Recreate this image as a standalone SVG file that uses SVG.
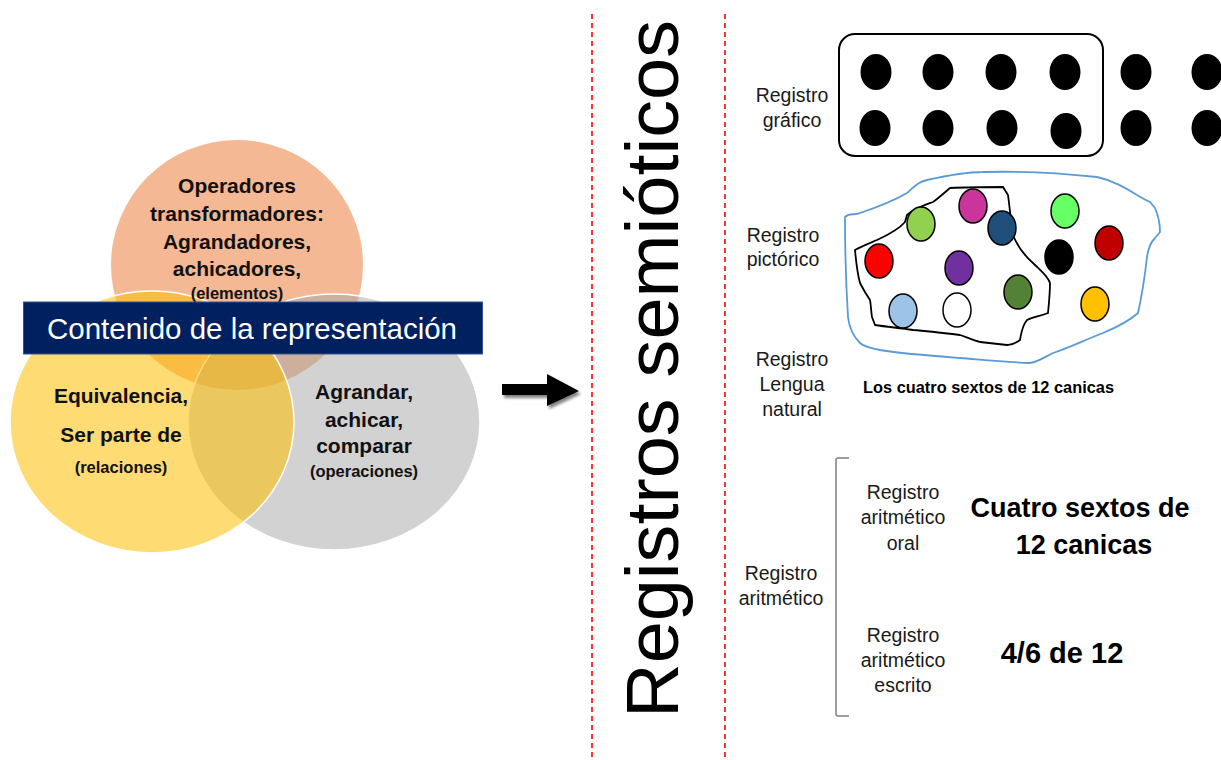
<svg xmlns="http://www.w3.org/2000/svg" width="1221" height="760" viewBox="0 0 1221 760">
<defs>
<style>
text{font-family:"Liberation Sans",Arial,sans-serif;fill:#000}
.b{font-weight:bold}
.lbl{font-size:19.5px;text-anchor:middle;fill:#1a1a1a}
.ct{font-size:21px;font-weight:bold;text-anchor:middle;fill:#111}
.cs{font-size:16.5px;font-weight:bold;text-anchor:middle;fill:#111}
.dot{fill:#000}
.m{stroke:#000;stroke-width:1.5}
.sep{stroke:#FF0000;stroke-width:1.6;stroke-dasharray:5 4;fill:none}
</style>
<filter id="sh" x="-20%" y="-30%" width="160%" height="180%">
<feGaussianBlur in="SourceAlpha" stdDeviation="1.8"/>
<feOffset dx="2" dy="3" result="o"/>
<feComponentTransfer><feFuncA type="linear" slope="0.5"/></feComponentTransfer>
<feMerge><feMergeNode/><feMergeNode in="SourceGraphic"/></feMerge>
</filter>
</defs>
<rect width="1221" height="760" fill="#fff"/>

<g id="venn">
<g id="circle-top">
<ellipse cx="237" cy="265" rx="126" ry="125" fill="#F0A070" fill-opacity="0.75"/>
</g>
<g id="circle-right">
<ellipse cx="334" cy="422" rx="146" ry="128" fill="#A6A6A6" fill-opacity="0.5" stroke="#fff" stroke-width="1.5"/>
</g>
<g id="circle-left">
<ellipse cx="152" cy="422" rx="142" ry="131" fill="#FFC000" fill-opacity="0.55" stroke="#fff" stroke-width="1.5"/>
</g>
<g id="text-top">
<text class="ct" x="237" y="193">Operadores</text>
<text class="ct" x="237" y="221">transformadores:</text>
<text class="ct" x="237" y="249">Agrandadores,</text>
<text class="ct" x="237" y="276">achicadores,</text>
<text class="cs" x="237" y="299" font-weight="normal">(elementos)</text>
</g>
<g id="text-left">
<text class="ct" x="121" y="403">Equivalencia,</text>
<text class="ct" x="121" y="442">Ser parte de</text>
<text class="cs" x="121" y="473">(relaciones)</text>
</g>
<g id="text-right">
<text class="ct" x="364" y="399">Agrandar,</text>
<text class="ct" x="364" y="427">achicar,</text>
<text class="ct" x="364" y="453">comparar</text>
<text class="cs" x="364" y="477">(operaciones)</text>
</g>
<g id="banner">
<rect x="23.5" y="302" width="459" height="52" fill="#002060" stroke="#2F5597" stroke-width="1"/>
<text x="252" y="339" font-size="29" fill="#fff" style="fill:#fff" text-anchor="middle" textLength="410" lengthAdjust="spacingAndGlyphs">Contenido de la representación</text>
</g>
</g>

<g id="connectors">
<path d="M502,384 L547,384 L547,374 L579,391 L547,406 L547,395 L502,395 Z" fill="#000" filter="url(#sh)"/>
<line class="sep" x1="592" y1="14" x2="592" y2="760"/>
<line class="sep" x1="725" y1="14" x2="725" y2="760"/>
</g>

<g id="title">
<text transform="translate(678,369) rotate(-90)" x="0" y="0" font-size="75" text-anchor="middle" textLength="698" lengthAdjust="spacingAndGlyphs">Registros semióticos</text>
</g>

<g id="registro-grafico">
<text class="lbl" x="792" y="102">Registro</text>
<text class="lbl" x="792" y="127">gráfico</text>
<rect x="839" y="34" width="264" height="122" rx="16" fill="none" stroke="#000" stroke-width="2"/>
<ellipse class="dot" cx="876" cy="72" rx="15.5" ry="18"/>
<ellipse class="dot" cx="938" cy="72" rx="15.5" ry="18"/>
<ellipse class="dot" cx="1001" cy="72" rx="15.5" ry="18"/>
<ellipse class="dot" cx="1065" cy="72" rx="15.5" ry="18"/>
<ellipse class="dot" cx="1136" cy="72" rx="15.5" ry="18"/>
<ellipse class="dot" cx="1207" cy="72" rx="15.5" ry="18"/>
<ellipse class="dot" cx="875" cy="128" rx="15.5" ry="18"/>
<ellipse class="dot" cx="938" cy="128" rx="15.5" ry="18"/>
<ellipse class="dot" cx="1002" cy="128" rx="15.5" ry="18"/>
<ellipse class="dot" cx="1066" cy="131" rx="15.5" ry="18"/>
<ellipse class="dot" cx="1136" cy="128" rx="15.5" ry="18"/>
<ellipse class="dot" cx="1207" cy="128" rx="15.5" ry="18"/>
</g>

<g id="registro-pictorico">
<text class="lbl" x="783" y="242">Registro</text>
<text class="lbl" x="783" y="266">pictórico</text>
<path d="M845,217 C850,212 855,216 860,213 C875,208 895,200 907,193 C915,186 920,181 927,180 C945,176 965,172 983,172 C1020,171 1060,173 1097,177 C1120,182 1135,195 1150,202 L1155,208 C1158,215 1160,225 1160,232 L1155,238 C1150,243 1148,250 1147,257 C1145,275 1142,295 1138,313 C1128,322 1115,328 1103,333 C1085,340 1068,348 1053,353 C1045,357 1038,362 1030,363 C1005,362 985,360 960,358 C933,356 905,354 880,350 C870,348 863,346 860,343 C852,335 849,326 848,317 C846,285 845,250 845,217 Z" fill="none" stroke="#5B9BD5" stroke-width="1.8"/>
<path d="M855,250 C862,246 870,243 877,240 C890,234 900,228 905,222 L907,215 C915,208 925,205 933,202 C940,197 945,192 950,188 C968,187 985,187 1003,187 L1008,195 C1010,210 1011,222 1013,235 C1018,248 1025,256 1033,263 C1040,270 1048,276 1050,283 C1050,293 1049,303 1048,313 C1040,316 1033,317 1027,320 C1022,326 1021,334 1020,340 C1016,343 1012,345 1007,345 C998,344 989,343 980,342 C973,340 966,337 960,335 C944,333 928,331 913,330 C900,328 888,327 875,325 L872,317 C871,311 871,305 870,300 C866,294 863,289 860,283 C857,272 856,261 855,250 Z" fill="none" stroke="#000" stroke-width="1.8"/>
<ellipse class="m" cx="921" cy="224" rx="14" ry="17" fill="#92D050"/>
<ellipse class="m" cx="973" cy="206" rx="14" ry="17" fill="#C9359A"/>
<ellipse class="m" cx="1002" cy="228" rx="14" ry="17" fill="#1F4E79"/>
<ellipse class="m" cx="1065" cy="211" rx="14" ry="17" fill="#66FF66"/>
<ellipse class="m" cx="879" cy="261" rx="14" ry="17" fill="#FF0000"/>
<ellipse class="m" cx="959" cy="268" rx="14" ry="17" fill="#7030A0"/>
<ellipse class="m" cx="1059" cy="257" rx="14" ry="17" fill="#000000"/>
<ellipse class="m" cx="1109" cy="243" rx="14" ry="17" fill="#C00000"/>
<ellipse class="m" cx="1018" cy="292" rx="14" ry="17" fill="#538135"/>
<ellipse class="m" cx="903" cy="311" rx="14" ry="17" fill="#9DC3E6"/>
<ellipse class="m" cx="957" cy="310" rx="14" ry="17" fill="#FFFFFF"/>
<ellipse class="m" cx="1095" cy="304" rx="14" ry="17" fill="#FFC000"/>
</g>

<g id="registro-lengua">
<text class="lbl" x="792" y="366">Registro</text>
<text class="lbl" x="792" y="391">Lengua</text>
<text class="lbl" x="792" y="416">natural</text>
<text class="b" x="863" y="393" font-size="16.4" textLength="251" lengthAdjust="spacingAndGlyphs">Los cuatro sextos de 12 canicas</text>
</g>

<g id="registro-aritmetico">
<text class="lbl" x="781" y="580">Registro</text>
<text class="lbl" x="781" y="605">aritmético</text>
<path d="M849,458 L838,458 Q836,458 836,460 L836,714 Q836,716 838,716 L849,716" fill="none" stroke="#7F7F7F" stroke-width="1.5"/>
</g>

<g id="registro-oral">
<text class="lbl" x="903" y="499">Registro</text>
<text class="lbl" x="903" y="524">aritmético</text>
<text class="lbl" x="903" y="550">oral</text>
<text class="b" x="1080" y="517" font-size="27" text-anchor="middle">Cuatro sextos de</text>
<text class="b" x="1084" y="554" font-size="27" text-anchor="middle">12 canicas</text>
</g>

<g id="registro-escrito">
<text class="lbl" x="903" y="642">Registro</text>
<text class="lbl" x="903" y="667">aritmético</text>
<text class="lbl" x="903" y="692">escrito</text>
<text class="b" x="1062" y="663" font-size="29" text-anchor="middle">4/6 de 12</text>
</g>
</svg>
